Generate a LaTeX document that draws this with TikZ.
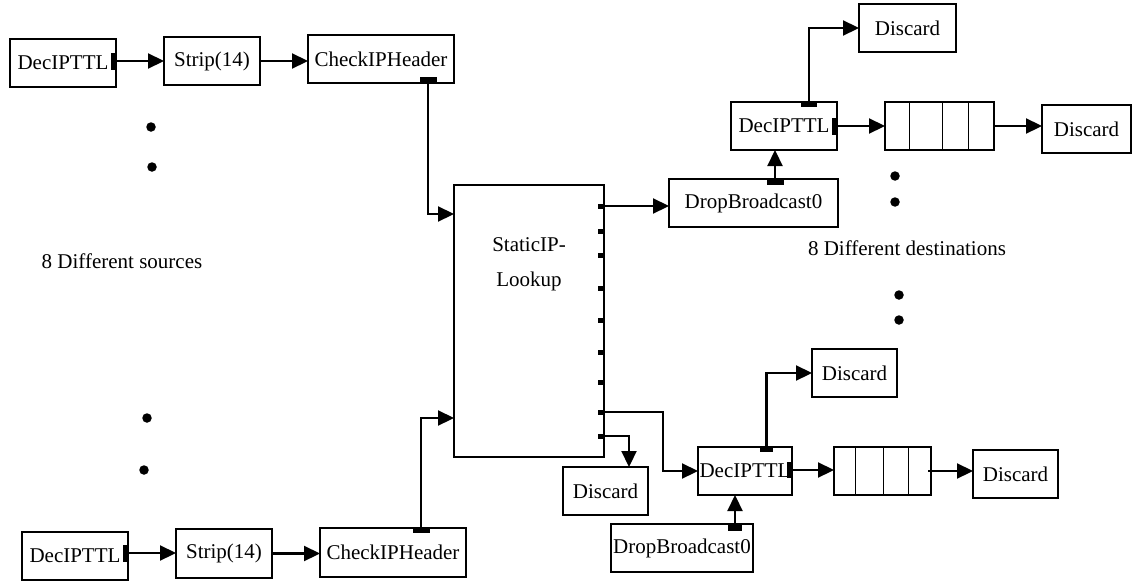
\documentclass[tikz,border=0pt]{standalone}
\usepackage{fontspec}
\setmainfont{Liberation Serif}
\usetikzlibrary{arrows.meta}
\begin{document}
\begin{tikzpicture}[x=1pt,y=-1pt,
  every node/.style={font=\fontsize{21}{24}\selectfont, inner sep=0pt, outer sep=0pt},
  box/.style={draw, line width=2.2pt, minimum height=48pt},
  port/.style={fill=black, draw=none},
  arr/.style={line width=2.2pt, -{Triangle[length=16pt,width=15pt]}},
  qline/.style={line width=1pt},
  dot/.style={circle, fill=black, minimum size=9.5pt}]
\useasboundingbox (0,0) rectangle (1133,581);

% ---------- top source chain ----------
\node[box, minimum width=106pt] (d1) at (63,63) {DecIPTTL};
\node[box, minimum width=96pt] (s1) at (212,61) {Strip(14)};
\node[box, minimum width=146pt] (c1) at (381,59) {CheckIPHeader};
\node[port, minimum width=5pt, minimum height=17pt] (d1p) at (113.5,61) {};
\node[port, minimum width=17pt, minimum height=5pt] (c1p) at (428,79.5) {};

% ---------- bottom source chain ----------
\node[box, minimum width=106pt] (d2) at (75,556) {DecIPTTL};
\node[box, minimum width=96pt, minimum height=49pt] (s2) at (224,553.5) {Strip(14)};
\node[box, minimum width=146pt, minimum height=49pt] (c2) at (393,552.5) {CheckIPHeader};
\node[port, minimum width=5pt, minimum height=17pt] (d2p) at (125.5,553) {};
\node[port, minimum width=17pt, minimum height=5pt] (c2p) at (421,530.5) {};

% ---------- lookup ----------
\node[box, minimum width=150pt, minimum height=272pt,
  label={[align=center, anchor=north, yshift=-53pt, font=\fontsize{21}{35}\selectfont]north:StaticIP-\\Lookup}]
  (lookup) at (529,321) {};
\foreach \i/\y in {1/206,2/231,3/255,4/288,5/320,6/352,7/382,8/412,9/436}
  \node[port, minimum width=6pt, minimum height=5pt] (lp\i) at (601,\y) {};
\coordinate (inA) at (454,214);
\coordinate (inB) at (454,418);

% ---------- top destination ----------
\node[box, minimum width=169pt] (dbA) at (753.5,203) {DropBroadcast0};
\node[port, minimum width=17pt, minimum height=6pt] (dbAp) at (775,182) {};
\node[box, minimum width=106pt] (ttlA) at (784,126) {DecIPTTL};
\node[port, minimum width=16pt, minimum height=5pt] (ttlAt) at (809,104.5) {};
\node[port, minimum width=5pt, minimum height=17pt] (ttlAr) at (834.5,126) {};
\node[box, minimum width=97pt] (discA1) at (907.5,28) {Discard};
\node[box, minimum width=109pt] (qA) at (939.5,126) {};
\draw[qline] ([xshift=24pt]qA.north west) -- ([xshift=24pt]qA.south west);
\draw[qline] ([xshift=57pt]qA.north west) -- ([xshift=57pt]qA.south west);
\draw[qline] ([xshift=83pt]qA.north west) -- ([xshift=83pt]qA.south west);
\node[box, minimum width=89pt] (discA2) at (1086.5,129) {Discard};

% ---------- bottom destination ----------
\node[box, minimum width=85pt] (discB0) at (605.5,491) {Discard};
\node[box, minimum width=94pt] (ttlB) at (745,471) {DecIPTTL};
\node[port, minimum width=13pt, minimum height=5pt] (ttlBt) at (766.5,449.5) {};
\node[port, minimum width=5pt, minimum height=16pt] (ttlBr) at (789.5,470) {};
\node[box, minimum width=85pt] (discB1) at (854.5,373) {Discard};
\node[box, minimum width=97pt] (qB) at (882.5,471) {};
\draw[qline] ([xshift=21pt]qB.north west) -- ([xshift=21pt]qB.south west);
\draw[qline] ([xshift=49pt]qB.north west) -- ([xshift=49pt]qB.south west);
\draw[qline] ([xshift=74pt]qB.north west) -- ([xshift=74pt]qB.south west);
\node[box, minimum width=85pt] (discB2) at (1015.5,474) {Discard};
\node[box, minimum width=142pt] (dbB) at (682,548) {DropBroadcast0};
\node[port, minimum width=14pt, minimum height=7pt] (dbBp) at (735,527.5) {};

% ---------- labels and dots ----------
\node (srclabel) at (122,261) {8 Different sources};
\node (dstlabel) at (907,248) {8 Different destinations};
\node[dot] (dt1) at (151,127) {};
\node[dot] (dt2) at (152,167) {};
\node[dot] (dt3) at (147,418) {};
\node[dot] (dt4) at (144,470) {};
\node[dot] (dt5) at (895,176) {};
\node[dot] (dt6) at (895,202) {};
\node[dot] (dt7) at (899,295) {};
\node[dot] (dt8) at (899,320) {};

% ---------- connectors ----------
\draw[arr] (d1p.east) -- (d1p.east -| s1.west);
\draw[arr] (s1.east) -- (s1.east -| c1.west);
\draw[arr] (c1p.south) |- (inA);
\draw[arr] (d2p.east) -- (d2p.east -| s2.west);
\draw[arr] (s2.east) -- (s2.east -| c2.west);
\draw[arr] (c2p.north) |- (inB);

\draw[arr] (lp1.east) -- (lp1.east -| dbA.west);
\coordinate (bendB) at (663,412);
\draw[arr] (lp8.east) -- (bendB) |- (ttlB.west);
\draw[arr] (lp9.east) -| ([xshift=23.5pt]discB0.north);

\draw[arr] (dbAp.north) -- (dbAp.north |- ttlA.south);
\draw[arr] (ttlAt.north) |- (discA1.west);
\draw[arr] (ttlAr.east) -- (ttlAr.east -| qA.west);
\draw[arr] ([xshift=-1pt]qA.east) -- (qA.east -| discA2.west);

\draw[arr] (dbBp.north) -- (dbBp.north |- ttlB.south);
\draw[arr] (ttlBt.north) |- (discB1.west);
\draw[arr] (ttlBr.east) -- (ttlBr.east -| qB.west);
\draw[arr] ([xshift=-3pt]qB.east) -- (qB.east -| discB2.west);
\end{tikzpicture}
\end{document}
